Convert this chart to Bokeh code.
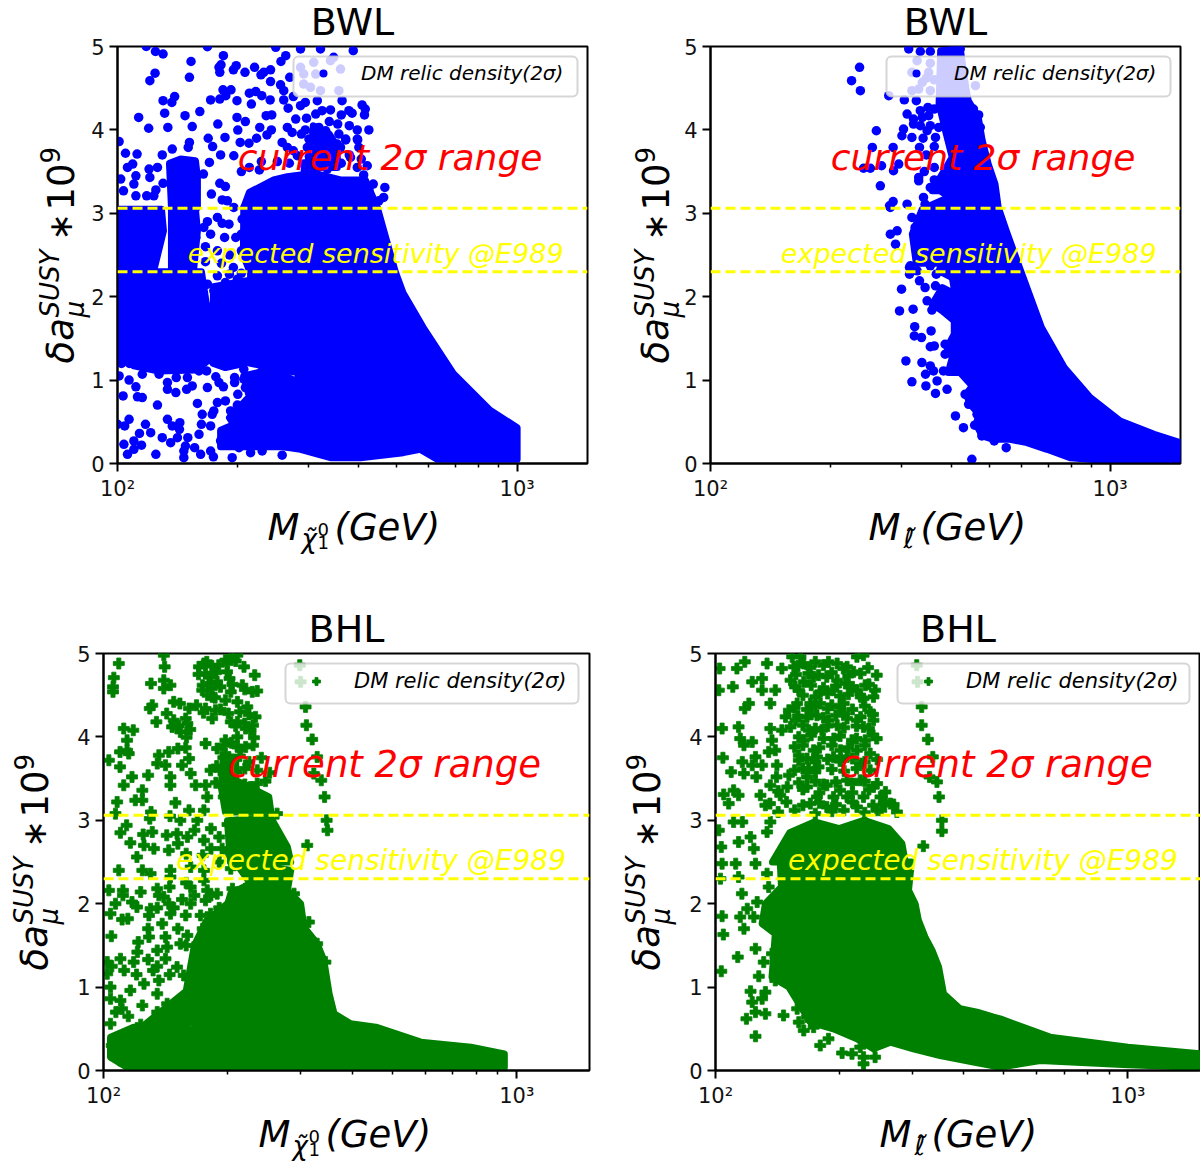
import numpy as np
from bokeh.plotting import figure
from bokeh.layouts import column, row
from bokeh.models import Label, Span, BoxAnnotation, FixedTicker
from bokeh.embed import file_html
from bokeh.resources import INLINE

# ---- values: (log10 of mass in GeV, delta a_mu * 1e9) ----
bwl_chi_pts = [
(2.072,5.0),(2.095,4.94),(2.114,4.91),(2.184,4.82),(2.094,4.68),(2.081,4.59),(2.18,4.63),(2.265,4.89),(2.259,4.78),(2.254,4.75),
(2.256,4.69),(2.297,4.77),(2.29,4.72),(2.319,4.69),(2.343,4.75),(2.366,4.69),(2.359,4.66),(2.383,4.72),(2.383,4.58),(2.409,4.82),
(2.421,4.89),(2.408,4.54),(2.416,4.47),(2.431,4.63),(2.264,4.48),(2.284,4.48),(2.271,4.41),(2.256,4.37),(2.233,4.36),(2.299,4.35),
(2.33,4.44),(2.346,4.46),(2.361,4.41),(2.335,4.31),(2.382,4.36),(2.416,4.36),(2.427,4.26),(2.143,4.40),(2.136,4.33),(2.114,4.35),
(2.118,4.20),(2.206,4.22),(2.169,4.17),(2.053,4.15),(2.078,4.02),(2.126,4.03),(2.187,4.04),(2.251,4.07),(2.299,4.15),(2.32,4.10),
(2.372,4.17),(2.386,4.18),(2.301,3.998),(2.356,4.03),(2.374,3.94),(2.385,4.0),(2.269,3.91),(2.227,3.90),(2.18,3.85),(2.177,3.79),
(2.238,3.80),(2.258,3.70),(2.307,3.85),(2.329,3.84),(2.348,3.90),(2.137,3.77),(2.112,3.70),(2.02,3.72),(2.049,3.71),(2.004,3.86),
(2.038,3.59),(2.025,3.55),(2.10,3.55),(2.079,3.53),(2.081,3.43),(2.23,3.61),(2.291,3.69),(2.256,3.36),(2.27,3.32),(2.235,3.23),
(2.262,3.16),(2.275,3.15),(2.215,3.47),(2.046,3.45),(2.008,3.41),(2.041,3.35),(2.015,3.27),(2.114,3.36),(2.096,3.28),(2.073,3.21),
(2.046,3.21),(2.091,3.21),(2.458,4.29),(2.446,4.13),(2.473,4.14),(2.496,4.19),(2.512,4.23),(2.533,4.24),(2.504,4.03),(2.491,3.97),
(2.521,3.99),(2.551,4.07),(2.554,3.95),(2.479,3.89),(2.512,3.89),(2.533,3.87),(2.571,3.89),(2.6,3.89),(2.425,4.03),(2.437,3.97),
(2.412,3.85),(2.425,3.79),(2.475,3.79),(2.508,3.81),(2.5,3.69),(2.558,3.79),(2.604,3.79),(2.59,4.95),(2.612,4.30),(2.62,4.25),
(2.618,4.18),(2.587,4.20),(2.629,4.0),(2.571,3.88),(2.601,3.88),(2.625,3.57),(2.616,3.46),(2.64,3.35),(2.669,3.31),(2.629,3.28),
(2.591,3.23),(2.666,3.19),(2.654,3.15),(2.458,4.75),(2.491,4.81),(2.533,4.83),(2.558,4.73),(2.466,4.67),(2.496,4.67),(2.466,4.55),
(2.483,4.51),(2.508,4.47),(2.554,4.47),(2.562,4.35),(2.579,4.23),(2.541,4.87),(2.458,4.97),(2.508,4.97),(2.396,4.99),(2.225,4.998),
(2.45,3.69),(2.466,3.59),(2.541,3.63),(2.583,3.67),(2.525,3.53),
(2.014,.81),(2.05,.80),(2.062,.79),(2.1,.70),(2.147,1.03),(2.125,.97),(2.146,.85),(2.125,.89),(2.175,1.03),(2.187,.93),
(2.173,.89),(2.225,.91),(2.246,1.04),(2.254,.97),(2.265,.92),(2.293,1.03),(2.293,.97),(2.301,.83),(2.2,.72),(2.25,.73),
(2.241,.63),(2.212,.59),(2.237,.59),(2.21,.47),(2.233,.45),(2.125,.53),(2.137,.45),(2.156,.49),(2.155,.41),(2.029,.53),
(2.018,.45),(2.0,.47),(2.07,.47),(2.083,.37),(2.055,.36),(2.041,.27),(2.016,.23),(2.06,.22),(2.041,.17),(2.025,.11),
(2.096,.11),(2.112,.31),(2.133,.25),(2.15,.31),(2.176,.31),(2.17,.21),(2.193,.19),(2.166,.15),(2.166,.07),(2.208,.11),
(2.233,.15),(2.24,.08),(2.287,.07),(2.333,.13),(2.362,.15),(2.412,.10),(2.304,.19),(2.258,.27),(2.204,.35),(2.004,1.05),
(2.029,1.0),(2.046,.92),(2.104,1.07),(2.062,1.07),(2.204,1.11),(2.223,1.11),(2.316,1.13),(2.316,1.01),(2.32,.91),(2.325,.75),
(2.35,.79),(2.366,.67),(2.325,.59),(2.391,.55),(2.371,.47),(2.283,.63),(2.291,.55),(2.308,.47),(2.325,.39),(2.35,.43),
(2.275,.35),(2.291,.27),(2.333,.27),(2.366,.31),(2.391,.39),(2.225,2.15),(2.241,2.07),(2.27,2.17),(2.3,2.21),(2.32,2.15),
(2.273,2.03),(2.296,1.99),(2.32,2.03),(2.25,1.93),(2.241,1.75),(2.275,1.67),(2.3,1.57),(2.25,1.51),(2.266,1.55),(2.291,1.43),
(2.246,1.37),(2.258,1.23),(2.291,1.23),(2.308,1.33),(2.279,1.39),(2.325,1.91),(2.316,1.83),(2.266,1.83),(2.333,1.71),(2.233,1.59),
(2.225,2.90),(2.262,2.88),(2.279,2.87),(2.216,2.83),(2.233,2.75),(2.268,2.71),(2.312,2.93),(2.291,3.07),(2.296,2.71),(2.196,2.71),
(2.44,4.4),(2.47,4.33),(2.5,4.35),(2.47,4.0),(2.53,4.1),(2.56,4.18),(2.58,4.05),(2.6,4.0),(2.46,3.95),(2.52,3.9),
(2.55,3.83),(2.58,3.7),(2.61,3.65),(2.44,3.75),(2.48,3.68),(2.53,3.72),(2.56,3.6),(2.6,3.55),(2.43,3.6),(2.47,3.52),
(2.4,3.62),(2.36,3.62),(2.33,3.55),(2.31,3.5),(2.355,3.52),(2.05,1.9),(2.03,1.62),(2.05,1.5),(2.06,1.3),(2.01,1.2),
(2.03,1.2),(2.25,2.25),(2.28,2.27),(2.31,2.28),(2.24,1.9),(2.29,1.85),(2.27,1.75),(2.31,1.65),(2.25,1.65),(2.29,1.68),
(2.28,1.52),(2.32,1.5),(2.33,1.4),(2.26,1.43),(2.31,1.2),(2.27,1.28),(2.24,1.22),(2.22,2.6),(2.25,2.55),(2.28,2.5),
(2.31,2.55),(2.22,2.42),(2.26,2.4),(2.29,2.35),(2.31,2.75),(2.25,2.95),(2.27,.75),(2.3,.7),(2.34,.7),(2.36,.95),
(2.39,.95),(2.36,1.1),(2.41,1.05),(2.42,.7),(2.44,.95),
]
bwl_chi_core = [(2.316,3.07),(2.65,3.07),(2.695,2.3),(2.715,2.04),(2.765,1.63),(2.84,1.08),(2.89,.84),(2.932,.64),(3.0,.43),(3.0,.05),
(2.8,.05),(2.757,.17),(2.715,.13),(2.608,.07),(2.533,.07),(2.458,.17),(2.415,.2),(2.39,.40),(2.39,.64),(2.425,.84),
(2.458,1.08),(2.39,1.15),(2.333,1.2),(2.333,2.28),(2.315,2.5)]
bwl_chi_block_b = [(2.0,2.3),(2.21,2.3),(2.225,1.83),(2.233,1.51),(2.225,1.23),(2.196,1.12),(2.10,1.11),(2.041,1.17),(2.02,1.27),(2.0,1.27)]
bwl_chi_block_c = [(2.13,3.6),(2.158,3.65),(2.195,3.63),(2.2,3.43),(2.2,3.07),(2.135,3.07)]
bwl_chi_block_d = [(2.33,3.25),(2.391,3.4),(2.425,3.44),(2.491,3.48),(2.558,3.4),(2.62,3.4),(2.65,3.07),(2.316,3.07)]
bwl_chi_block_e = [(2.0,3.05),(2.11,3.05),(2.115,2.79),(2.09,2.3),(2.0,2.3)]
bwl_chi_block_f = [(2.135,3.05),(2.195,3.05),(2.2,2.79),(2.19,2.3),(2.135,2.3)]
bwl_chi_block_g = [(2.258,.40),(2.308,.5),(2.39,.5),(2.425,.2),(2.258,.2)]
bwl_chi_block_h = [(2.24,2.12),(2.335,2.2),(2.335,1.22),(2.27,1.15),(2.24,1.2)]
bwl_chi_block_i = [(2.316,1.05),(2.39,1.13),(2.44,1.0),(2.42,.7),(2.39,.45),(2.3,.4),(2.28,.55),(2.33,.8)]
bwl_chi_block_j = [(2.49,4.05),(2.53,3.95),(2.55,3.8),(2.55,3.55),(2.47,3.55),(2.49,3.8)]

bwl_slep_pts = [
(2.478,2.09),(2.473,1.83),(2.507,1.85),(2.554,1.84),(2.511,1.64),(2.552,1.59),(2.51,1.53),(2.528,1.51),(2.55,1.40),(2.56,1.41),
(2.587,1.43),(2.587,1.31),(2.489,1.23),(2.529,1.21),(2.55,1.17),(2.558,1.11),(2.538,1.07),(2.583,1.11),(2.504,.98),(2.539,.93),
(2.567,.99),(2.592,.89),(2.563,.84),(2.613,.57),(2.633,.43),(2.661,.46),(2.679,.33),(2.71,.27),(2.74,.19),(2.654,.05),
(2.637,.83),(2.646,.71),(2.667,.59),(2.523,2.19),(2.537,2.11),(2.563,2.13),(2.542,1.95),(2.583,2.03),(2.498,2.35),(2.498,2.27),
(2.517,2.31),(2.55,2.37),(2.565,2.27),(2.592,2.31),(2.457,3.14),(2.492,3.11),(2.45,3.07),(2.55,3.31),(2.533,3.19),(2.537,3.11),
(2.504,2.95),(2.512,2.83),(2.529,2.79),(2.55,2.79),(2.579,2.91),(2.45,2.75),(2.467,2.79),(2.463,2.63),(2.533,2.71),(2.562,2.59),
(2.5,2.37),(2.457,3.79),(2.471,3.59),(2.458,3.51),(2.521,3.43),(2.523,3.79),(2.521,3.39),(2.504,3.91),(2.479,3.93),(2.483,4.01),
(2.532,3.90),(2.508,4.07),(2.525,4.05),(2.542,3.99),(2.563,3.91),(2.571,4.03),(2.508,4.13),(2.492,4.19),(2.525,4.23),(2.546,4.17),
(2.544,4.27),(2.485,4.36),(2.515,4.35),(2.658,4.25),(2.671,4.18),(2.675,4.03),(2.446,4.41),(2.517,4.83),(2.504,4.69),(2.546,4.69),
(2.521,4.49),(2.504,4.47),(2.55,4.47),(2.496,4.97),(2.525,4.94),(2.55,4.94),(2.625,4.97),(2.604,4.95),(2.663,4.53),(2.617,4.51),
(2.633,4.43),(2.373,4.75),(2.353,4.59),(2.375,4.47),(2.415,3.99),(2.405,3.79),(2.383,3.54),(2.4,3.54),(2.428,3.57),(2.425,3.33),
(2.448,3.09),(2.53,4.15),(2.55,4.05),(2.56,3.8),(2.54,3.7),(2.56,3.55),(2.535,3.5),(2.56,3.4),(2.58,3.3),(2.56,4.25),
(2.54,4.62),(2.53,4.57),(2.56,4.6),(2.58,4.72),(2.55,4.8),(2.58,4.87),
]
bwl_slep_core = [(2.625,4.97),(2.64,4.47),(2.645,4.35),(2.67,4.15),(2.68,3.87),(2.695,3.59),(2.712,3.35),(2.72,3.07),(2.74,2.79),(2.77,2.39),
(2.828,1.63),(2.885,1.15),(2.95,.79),(3.025,.51),(3.11,.35),(3.175,.25),(3.175,.0),(3.008,.03),(2.9,.07),(2.842,.17),(2.792,.25),
(2.75,.29),(2.708,.29),(2.68,.33),(2.665,.47),(2.672,.59),(2.65,.71),(2.64,.83),(2.655,.93),(2.625,1.09),(2.595,1.09),(2.605,1.27),
(2.592,1.39),(2.61,1.55),(2.61,1.71),(2.58,1.83),(2.555,1.91),(2.58,2.11),(2.612,2.03),(2.605,2.23),(2.572,2.31),(2.612,2.79),
(2.612,3.15),(2.575,3.27),(2.555,3.27),(2.605,3.67),(2.588,3.99),(2.572,4.31),(2.576,4.95)]
bwl_slep_block_a = [(2.53,3.05),(2.6,3.2),(2.608,2.4),(2.515,2.4),(2.505,2.75)]

bhl_chi_pts = [
(2.037,4.88),(2.025,4.71),(2.023,4.60),(2.023,4.54),(2.146,4.98),(2.148,4.84),(2.146,4.68),(2.146,4.58),(2.162,4.62),(2.115,4.64),
(2.243,4.88),(2.231,4.84),(2.247,4.76),(2.239,4.56),(2.259,4.64),(2.275,4.66),(2.263,4.48),(2.279,4.86),(2.299,4.78),(2.308,4.96),
(2.295,4.92),(2.324,4.98),(2.34,4.84),(2.366,4.74),(2.336,4.62),(2.308,4.54),(2.36,4.54),(2.372,4.55),(2.295,4.44),(2.324,4.42),
(2.348,4.36),(2.247,4.34),(2.271,4.32),(2.263,4.22),(2.112,4.34),(2.118,4.38),(2.153,4.28),(2.128,4.18),(2.17,4.42),(2.185,4.40),
(2.207,4.34),(2.225,4.38),(2.199,4.22),(2.17,4.20),(2.166,4.12),(2.186,4.06),(2.21,4.09),(2.201,3.996),(2.049,4.10),(2.072,4.08),
(2.057,3.96),(2.057,3.84),(2.04,3.82),(2.061,3.80),(2.013,3.72),(2.04,3.64),(2.069,3.52),(2.108,3.54),(2.049,3.42),(2.094,3.36),
(2.077,3.24),(2.094,3.24),(2.033,3.22),(2.029,3.08),(2.115,3.10),(2.112,3.02),(2.161,3.05),(2.174,3.21),(2.247,3.92),(2.18,3.86),
(2.199,3.87),(2.158,3.82),(2.134,3.78),(2.13,3.68),(2.15,3.66),(2.207,3.74),(2.19,3.66),(2.211,3.56),(2.162,3.52),(2.162,3.42),
(2.223,3.42),(2.247,3.42),(2.275,3.86),(2.295,3.96),(2.324,4.0),(2.344,4.10),(2.324,4.18),(2.308,4.18),(2.368,4.24),(2.356,4.08),
(2.364,3.99),(2.324,3.88),(2.344,3.88),(2.295,3.80),(2.274,3.65),(2.259,3.60),(2.251,3.28),(2.291,3.44),(2.291,3.28),(2.316,3.16),
(2.388,3.20),(2.372,3.44),(2.356,3.40),(2.42,3.08),(2.207,3.12),(2.243,3.12),(2.324,3.32),(2.475,4.86),(2.477,4.66),(2.489,4.36),
(2.491,4.14),(2.505,3.97),(2.517,3.76),(2.509,3.56),(2.527,3.48),(2.535,3.28),(2.54,3.0),(2.542,2.88),(2.493,2.70),(2.056,2.94),
(2.041,2.85),(2.065,2.73),(2.096,2.83),(2.118,2.86),(2.098,2.70),(2.122,2.66),(2.158,2.64),(2.081,2.56),(2.153,2.82),(2.178,2.84),
(2.203,2.80),(2.186,3.0),(2.227,3.0),(2.243,2.76),(2.287,2.66),
(2.037,2.40),(2.013,2.16),(2.047,2.16),(2.047,2.10),(2.09,2.14),(2.029,2.0),(2.069,2.02),(2.081,1.96),(2.114,1.94),(2.017,1.88),
(2.045,1.81),(2.059,1.82),(2.11,1.86),(2.019,1.61),(2.108,1.70),(2.11,1.60),(2.084,1.54),(2.082,1.42),(2.041,1.34),(2.073,1.30),
(2.108,1.33),(2.009,1.30),(2.13,1.44),(2.154,1.48),(2.15,1.34),(2.134,2.10),(2.158,2.0),(2.142,1.76),(2.162,1.88),(2.199,1.86),
(2.211,2.0),(2.247,2.04),(2.235,1.86),(2.203,1.62),(2.227,1.52),(2.186,1.52),(2.178,1.24),(2.194,1.14),(2.134,1.08),(2.098,1.04),
(2.065,.96),(2.017,1.0),(2.041,.84),(2.094,.78),(2.13,.92),(2.154,.80),(2.219,1.04),(2.122,.60),(2.017,.56),(2.009,1.16),
(2.045,.74),(2.017,.86),(2.251,2.16),(2.312,2.18),(2.344,2.18),(2.433,2.22),(2.461,2.12),(2.497,1.78),(2.517,1.52),(2.537,1.30),
(2.162,2.32),(2.13,2.18),(2.146,2.08),(2.211,2.2),(2.243,2.28),(2.275,2.12),(2.259,1.88),(2.235,1.32),(2.251,1.08),(2.094,2.40),
(2.114,2.36),(2.162,2.40),(2.211,2.44),(2.243,2.40),(2.308,2.42),
(2.25,4.9),(2.262,4.85),(2.3,4.88),(2.32,4.91),(2.23,4.75),(2.255,4.72),(2.272,4.77),(2.305,4.7),(2.24,4.62),(2.262,4.58),
(2.283,4.6),(2.312,4.63),(2.342,4.57),(2.252,4.5),(2.27,4.47),(2.242,4.29),(2.283,4.33),(2.302,4.28),(2.33,4.3),(2.352,4.27),
(2.172,4.15),(2.182,4.13),(2.203,4.16),(2.32,4.13),(2.342,4.16),(2.362,4.14),(2.292,3.9),(2.31,3.93),(2.332,3.85),(2.362,3.9),
(2.29,3.75),(2.312,3.73),(2.33,3.77),(2.352,3.7),(2.382,3.75),(2.282,3.6),(2.302,3.63),(2.322,3.58),(2.342,3.62),(2.372,3.6),
(2.402,3.57),(2.272,3.45),(2.312,3.48),(2.342,3.43),(2.392,3.47),
(2.02,1.25),(2.05,1.2),(2.08,1.15),(2.12,1.2),(2.16,1.15),(2.03,.7),(2.06,.65),(2.09,.55),(2.13,.7),(2.17,.75),
(2.02,.3),(2.04,.12),(2.08,.25),(2.12,.15),(2.16,.3),(2.18,.12),(2.11,.4),(2.13,1.25),(2.15,1.6),(2.18,1.7),
(2.2,1.5),(2.22,2.1),(2.16,2.2),(2.2,2.25),(2.13,1.95),(2.19,2.05),(2.24,1.7),(2.26,2.1),(2.28,1.95),(2.17,1.95),
(2.26,2.9),(2.28,2.8),(2.3,2.95),(2.22,2.88),(2.26,2.66),(2.2,2.6),(2.18,2.72),(2.3,2.62),(2.24,2.58),(2.28,2.5),
]
bhl_chi_core = [(2.356,2.24),(2.445,2.16),(2.477,2.0),(2.485,1.72),(2.517,1.52),(2.533,1.32),(2.546,.92),(2.558,.68),(2.598,.56),(2.659,.52),
(2.768,.34),(2.889,.28),(2.97,.2),(2.97,.04),(2.194,.04),(2.194,.40),(2.267,.72),(2.307,1.2),(2.275,1.56),(2.291,1.84),(2.308,2.12)]
bhl_chi_block_a = [(2.3,2.995),(2.404,3.04),(2.445,2.68),(2.453,2.5),(2.307,2.5)]
bhl_chi_block_b = [(2.017,.40),(2.073,.52),(2.203,.52),(2.203,.04),(2.057,.04),(2.017,.16)]
bhl_chi_block_c = [(2.316,2.52),(2.453,2.40),(2.445,2.16),(2.356,2.24)]
bhl_chi_block_d = [(2.10,.55),(2.2,.95),(2.22,1.5),(2.25,1.8),(2.3,2.0),(2.3,.6)]
bhl_chi_block_e = [(2.29,3.75),(2.32,3.75),(2.32,3.48),(2.40,3.28),(2.405,3.1),(2.295,3.1),(2.285,3.4)]

bhl_slep_pts = [
(2.01,4.82),(2.071,4.90),(2.052,4.82),(2.125,4.88),(2.161,4.82),(2.008,4.56),(2.042,4.60),(2.089,4.66),(2.113,4.70),(2.113,4.56),
(2.145,4.56),(2.133,4.40),(2.081,4.40),(2.071,4.34),(2.016,4.10),(2.056,4.12),(2.06,3.98),(2.089,3.94),(2.069,3.90),(2.018,3.75),
(2.065,3.70),(2.097,3.76),(2.038,3.58),(2.069,3.56),(2.099,3.52),(2.089,3.66),(2.113,3.66),(2.149,3.66),(2.129,3.82),(2.145,3.84),
(2.133,4.10),(2.161,4.08),(2.137,3.96),(2.178,3.54),(2.148,3.52),(2.133,3.42),(2.174,3.40),(2.157,3.30),(2.02,3.31),(2.044,3.36),
(2.056,3.30),(2.032,3.20),(2.109,3.30),(2.121,3.18),(2.044,2.98),(2.065,2.98),(2.008,2.88),(2.014,2.68),(2.056,2.74),(2.085,2.80),
(2.093,2.66),(2.125,2.86),(2.133,2.98),(2.186,4.96),(2.206,4.96),(2.19,4.84),(2.214,4.88),(2.242,4.90),(2.274,4.90),(2.295,4.88),
(2.319,4.84),(2.343,4.96),(2.359,4.98),(2.335,4.78),(2.37,4.83),(2.391,4.74),(2.182,4.68),(2.214,4.66),(2.202,4.56),(2.238,4.72),
(2.27,4.72),(2.295,4.68),(2.315,4.64),(2.286,4.56),(2.254,4.54),(2.343,4.56),(2.363,4.62),(2.387,4.56),(2.383,4.48),(2.359,4.46),
(2.178,4.32),(2.17,4.24),(2.198,4.40),(2.23,4.40),(2.254,4.40),(2.282,4.38),(2.311,4.40),(2.343,4.20),(2.375,4.30),(2.383,4.20),
(2.194,4.20),(2.222,4.24),(2.246,4.26),(2.274,4.20),(2.295,4.14),(2.319,4.22),(2.226,4.08),(2.258,4.08),(2.287,3.98),(2.214,3.96),
(2.359,4.12),(2.391,3.98),(2.331,3.96),(2.363,3.96),(2.303,3.84),(2.343,3.84),(2.375,3.80),(2.238,3.84),(2.202,3.78),(2.246,3.76),
(2.226,3.62),(2.25,3.64),(2.286,3.76),(2.319,3.76),(2.351,3.68),(2.375,3.60),(2.222,3.52),(2.27,3.42),(2.222,3.40),(2.319,3.48),
(2.351,3.48),(2.383,3.40),(2.246,3.28),(2.286,3.28),(2.319,3.28),(2.359,3.28),(2.408,3.20),(2.4,3.28),(2.424,3.20),(2.44,3.10),
(2.23,3.20),(2.27,3.16),(2.311,3.12),(2.343,3.16),(2.391,3.12),(2.488,4.86),(2.49,4.66),(2.5,4.36),(2.5,4.14),(2.515,3.97),
(2.527,3.76),(2.519,3.52),(2.537,3.46),(2.542,3.28),(2.549,3.0),(2.549,2.87),(2.504,2.69),
(2.016,1.85),(2.019,1.63),(2.014,1.19),(2.054,1.36),(2.097,1.46),(2.105,1.13),(2.085,.95),(2.089,.82),(2.121,.94),(2.113,.86),
(2.121,.68),(2.097,.70),(2.075,.62),(2.097,.41),(2.165,.66),(2.198,.74),(2.222,.64),(2.202,.58),(2.214,.48),(2.254,.30),
(2.274,.38),(2.238,.52),(2.307,.21),(2.331,.20),(2.359,.08),(2.387,.16),(2.359,.16),(2.351,.28),(2.246,.78),(2.214,.92),
(2.194,.96),(2.145,1.08),(2.117,1.30),(2.137,1.40),(2.06,1.84),(2.069,1.70),(2.093,1.84),(2.077,1.94),(2.064,2.12),(2.101,2.02),
(2.056,2.32),(2.012,2.30),(2.016,2.48),(2.049,2.48),(2.097,2.48),(2.129,2.20),(2.125,2.36),
(2.2,4.85),(2.23,4.83),(2.262,4.86),(2.31,4.82),(2.195,4.75),(2.225,4.76),(2.25,4.74),(2.282,4.77),(2.322,4.73),(2.352,4.76),
(2.193,4.6),(2.232,4.62),(2.262,4.59),(2.292,4.61),(2.332,4.6),(2.372,4.63),(2.212,4.5),(2.242,4.48),(2.272,4.52),(2.302,4.49),
(2.322,4.51),(2.352,4.48),(2.192,4.35),(2.222,4.33),(2.242,4.37),(2.272,4.34),(2.302,4.36),(2.332,4.33),(2.362,4.37),(2.2,4.25),
(2.232,4.27),(2.262,4.23),(2.292,4.26),(2.312,4.28),(2.352,4.24),(2.382,4.27),(2.182,4.12),(2.212,4.14),(2.242,4.1),(2.272,4.13),
(2.312,4.11),(2.342,4.13),(2.372,4.1),(2.202,4.0),(2.232,4.02),(2.262,3.98),(2.302,4.01),(2.342,3.98),(2.382,4.02),(2.192,3.88),
(2.212,3.9),(2.252,3.87),(2.282,3.9),(2.322,3.87),(2.362,3.9),(2.202,3.72),(2.222,3.74),(2.242,3.7),(2.272,3.73),(2.302,3.71),
(2.332,3.74),(2.362,3.7),(2.392,3.73),(2.192,3.6),(2.212,3.62),(2.242,3.58),(2.282,3.61),(2.312,3.59),(2.342,3.62),(2.202,3.45),
(2.242,3.47),(2.262,3.43),(2.292,3.46),(2.332,3.44),(2.362,3.47),(2.392,3.44),(2.152,3.35),(2.212,3.37),(2.252,3.33),(2.302,3.36),
(2.332,3.33),(2.372,3.37),(2.412,3.34),(2.132,3.2),(2.172,3.22),(2.212,3.18),(2.252,3.21),(2.292,3.19),(2.332,3.22),(2.382,3.18),
(2.412,3.22),(2.432,3.19),(2.152,3.1),(2.192,3.12),(2.242,3.08),(2.282,3.11),(2.362,3.09),(2.402,3.12),
]
bhl_slep_core = [(2.157,2.5),(2.475,2.5),(2.468,2.16),(2.484,2.0),(2.492,1.80),(2.508,1.60),(2.525,1.44),(2.541,1.24),(2.553,.92),(2.593,.74),
(2.634,.70),(2.674,.64),(2.69,.62),(2.811,.40),(3.0,.28),(3.174,.2),(3.174,.04),(3.0,.07),(2.787,.12),(2.69,.04),(2.626,.10),
(2.545,.18),(2.48,.26),(2.424,.34),(2.383,.26),(2.343,.38),(2.286,.5),(2.23,.58),(2.178,1.0),(2.137,1.12),(2.141,1.36),(2.145,1.64),
(2.113,1.76),(2.121,2.0),(2.16,2.2)]
bhl_slep_block_a = [(2.18,2.85),(2.24,2.98),(2.3,2.9),(2.36,3.0),(2.42,2.9),(2.452,2.72),(2.46,2.5),(2.138,2.5)]

current_note = "current 2σ range"
expected_note = "expected sensitivity @E989"
legend_text = "DM relic density(2σ)"
current_band = [2.3, 3.06]
y_ticks = [0, 1, 2, 3, 4, 5]
x_major = [100, 1000]
x_minor = [200, 300, 400, 500, 600, 700, 800, 900]
x_major_text = {100: "10²", 1000: "10³"}
FONT = "DejaVu Sans"

# A clear sheet over the whole page carries the axis titles: annotations of a panel
# are clipped to its frame, so the stacked sub- and superscripts live here.
sheet = figure(width=1200, height=1161, x_range=(0, 1200), y_range=(1161, 0),
               x_axis_location=None, y_axis_location=None, min_border=0,
               toolbar_location=None, output_backend="svg", outline_line_color=None,
               background_fill_alpha=0, border_fill_alpha=0)
sheet.grid.visible = False
sheet.styles = {"position": "absolute", "left": "0px", "top": "6px", "pointer-events": "none"}


def gev(vals):
    return (10.0 ** np.array(vals)).tolist()


def piece(x, y, text, size, italic=True, angle=0):
    # bokeh seats this text about 0.38 of its size lower than a true baseline
    nudge = 0.38 * size
    sheet.add_layout(Label(x=x - nudge if angle else x, y=y if angle else y - nudge,
                           text=text, text_font=FONT,
                           text_font_size=f"{size}px", text_font_style="italic" if italic else "normal",
                           text_color="black", angle=angle, angle_units="deg",
                           text_align="left", text_baseline="alphabetic"))


def panel(title, w, h, origin, borders, pts, polys, color, marker, msize, box, legend_xy, ylab, xlab, chi, big):
    l, r, t, b = borders
    ox, oy = origin
    p = figure(width=w, height=h, x_axis_type="log", x_range=(100, 1500), y_range=(0, 5),
               min_border_left=l, min_border_right=r, min_border_top=t, min_border_bottom=b,
               toolbar_location=None, output_backend="svg", title=title)

    p.title.align = "center"
    p.title.text_font = FONT
    p.title.text_font_size = "38px"
    p.title.text_font_style = "normal"
    p.title.text_color = "black"
    p.title.text_line_height = 1.0
    p.title.standoff = 5
    p.grid.visible = False
    p.outline_line_color = "black"
    p.outline_line_width = 2
    p.yaxis.ticker = FixedTicker(ticks=y_ticks)
    p.xaxis.ticker = FixedTicker(ticks=x_major, minor_ticks=x_minor)
    p.xaxis.major_label_overrides = x_major_text
    for ax in (p.xaxis, p.yaxis):
        ax.major_label_text_font = FONT
        ax.major_label_text_font_size = "21px"
        ax.major_label_text_color = "#111111"
        ax.axis_line_width = 2
        ax.major_tick_line_width = 2
        ax.major_tick_in = 0
        ax.major_tick_out = 8
        ax.minor_tick_in = 0
        ax.minor_tick_out = 4
        ax.minor_tick_line_width = 1.5
        ax.major_label_standoff = 5

    p.patches([gev([q[0] for q in poly]) for poly in polys],
              [[q[1] for q in poly] for poly in polys],
              fill_color=color, line_color=color, line_width=7, line_join="round")
    p.scatter(gev([q[0] for q in pts]), [q[1] for q in pts], marker=marker, size=msize,
              fill_color=color, line_color=color, line_width=0.8 if marker == "plus" else 0,
              legend_label=legend_text)

    for v in current_band:
        p.add_layout(Span(location=v, dimension="width", line_color="yellow", line_width=3, line_dash="10 5"))

    p.add_layout(Label(x=200, y=3.67, text=current_note, text_font=FONT, text_color="red",
                       text_font_size="37px" if big else "36px", text_font_style="italic",
                       text_align="left", text_baseline="alphabetic"))
    p.add_layout(Label(x=150, y=2.52, text=expected_note, text_font=FONT, text_color="yellow",
                       text_font_size="28px" if big else "27px", text_font_style="italic",
                       text_align="left", text_baseline="alphabetic"))

    left, right, top, bottom = box
    p.add_layout(BoxAnnotation(left=left, right=right, top=top, bottom=bottom,
                               left_units="canvas", right_units="canvas", top_units="canvas", bottom_units="canvas",
                               fill_color="white", fill_alpha=0.8, line_color="#cccccc", line_alpha=0.8,
                               line_width=2, border_radius=5))
    lg = p.legend[0]
    lg.location = legend_xy
    lg.margin = 0
    lg.padding = 0
    lg.glyph_width = 20
    lg.glyph_height = 20
    lg.label_standoff = 28
    lg.background_fill_alpha = 0
    lg.border_line_alpha = 0
    lg.label_text_font = FONT
    lg.label_text_font_size = "21px" if big else "20px"
    lg.label_text_font_style = "italic"
    lg.label_text_color = "black"

    # y axis title, written piece by piece so the super- and subscripts stay real text
    yb_x, yb_y = ylab[0] + ox, ylab[1] + oy
    piece(yb_x, yb_y, "δa", 37, True, 90)
    piece(yb_x - 15, yb_y - 46, "SUSY", 26, True, 90)
    piece(yb_x + 10, yb_y - 46, "μ", 26, True, 90)
    piece(yb_x - 1, yb_y - 123, "∗", 33, False, 90)
    piece(yb_x, yb_y - 153, "10", 37, False, 90)
    piece(yb_x - 15, yb_y - 200, "9", 26, False, 90)

    # x axis title
    xb_x, xb_y = xlab[0] + ox, xlab[1] + oy
    piece(xb_x, xb_y, "M", 37)
    if chi:
        piece(xb_x + 34, xb_y + 7, "χ\u0303", 26)
        piece(xb_x + 50, xb_y + 8, "1", 18, False)
        piece(xb_x + 50, xb_y - 5, "0", 18, False)
        piece(xb_x + 67, xb_y, "(GeV)", 37)
    else:
        piece(xb_x + 35, xb_y + 7, "ℓ\u0303", 26)
        piece(xb_x + 52, xb_y, "(GeV)", 37)
    return p


p1 = panel("BWL", 600, 576, (0, 0), (117, 13, 52, 107), bwl_chi_pts,
           [bwl_chi_core, bwl_chi_block_b, bwl_chi_block_c, bwl_chi_block_d, bwl_chi_block_e,
            bwl_chi_block_f, bwl_chi_block_g, bwl_chi_block_h, bwl_chi_block_i, bwl_chi_block_j],
           "blue", "circle", 9.5, (293, 577, 62, 102), (196, 378), (74, 363), (267, 541), True, False)
p2 = panel("BWL", 600, 576, (600, 0), (110, 20, 52, 107), bwl_slep_pts, [bwl_slep_core, bwl_slep_block_a],
           "blue", "circle", 9.5, (286, 570, 62, 102), (196, 378), (69, 363), (268, 541), False, False)
p3 = panel("BHL", 600, 591, (0, 570), (103, 11, 83, 91), bhl_chi_pts,
           [bhl_chi_core, bhl_chi_block_a, bhl_chi_block_b, bhl_chi_block_c, bhl_chi_block_d, bhl_chi_block_e],
           "#008000", "plus", 11, (285, 578, 93, 133), (203, 377), (48, 400), (258, 578), True, True)
p4 = panel("BHL", 600, 591, (600, 570), (115, 0, 83, 91), bhl_slep_pts, [bhl_slep_core, bhl_slep_block_a],
           "#008000", "plus", 11, (297, 589, 93, 133), (203, 377), (60, 400), (279, 578), False, True)

page = column(row(p1, p2), row(p3, p4), sheet, margin=(-6, 0, 0, 0))
open("out.html", "w").write(file_html(page, INLINE))
